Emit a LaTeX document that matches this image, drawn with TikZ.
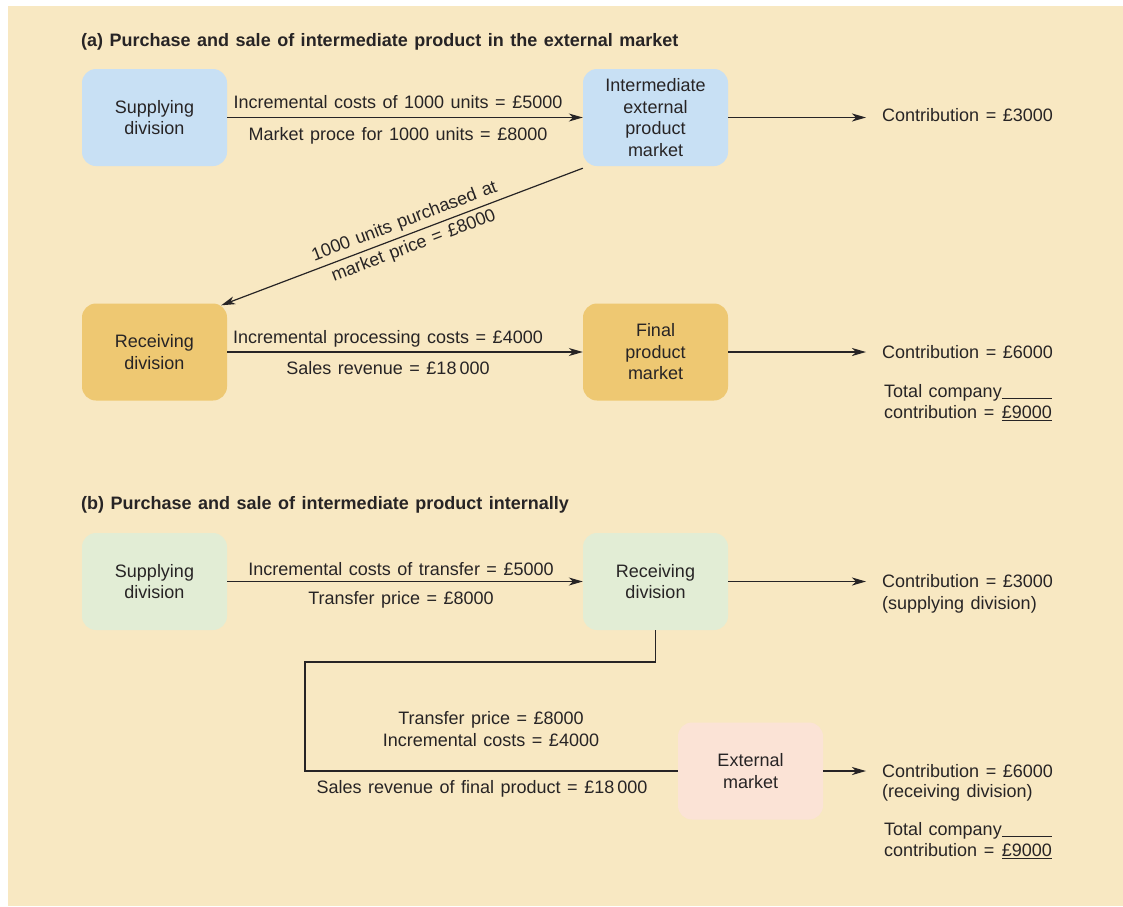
\documentclass[tikz,border=0pt]{standalone}
\usepackage{fontspec}
\setmainfont[WordSpace=1.3]{Liberation Sans}
\usetikzlibrary{arrows.meta}
\definecolor{bg}{HTML}{F8E8C2}
\definecolor{bluebox}{HTML}{C8E0F4}
\definecolor{goldbox}{HTML}{EEC872}
\definecolor{greenbox}{HTML}{E2EDD5}
\definecolor{pinkbox}{HTML}{FBE3D6}
\definecolor{ink}{HTML}{272425}
\newcommand{\myfs}{\fontsize{18}{21.5}\selectfont}
\newcommand{\mytitlefs}{\fontsize{18}{22}\selectfont\bfseries}
\begin{document}
\begin{tikzpicture}[x=1pt,y=-1pt,
  box/.style={rounded corners=14pt, minimum width=145pt, minimum height=97pt,
    align=center, text=ink, inner sep=0pt, font=\myfs},
  txt/.style={text=ink, inner sep=0pt, font=\myfs},
  ttl/.style={text=ink, inner sep=0pt, font=\mytitlefs, anchor=base west},
  conn/.style={draw=ink, line width=1.2pt},
  arr/.style={conn, -{Stealth[length=14pt,width=8pt,inset=4pt]}}]
\useasboundingbox (0,0) rectangle (1123,906);
\fill[bg] (8,6) rectangle (1123,906);

% titles
\node[ttl] (ta) at (81,46) {(a) Purchase and sale of intermediate product in the external market};
\node[ttl] (tb) at (81,509) {(b) Purchase and sale of intermediate product internally};

% ---------- part (a)
\node[box, fill=bluebox] (sa) at (154.5,117.5) {Supplying\\division};
\node[box, fill=bluebox] (ia) at (655.5,117.5) {Intermediate\\external\\product\\market};
\node[box, fill=goldbox] (ra) at (154.5,352) {Receiving\\division};
\node[box, fill=goldbox] (fa) at (655.5,352) {Final\\product\\market};

\draw[arr] (sa.east) -- (ia.west);
\node[txt, anchor=base] (la1) at (398,108) {Incremental costs of 1000 units = £5000};
\node[txt, anchor=base] (la2) at (398,140) {Market proce for 1000 units = £8000};

\node[txt, anchor=west] (ca1) at (882,115) {Contribution = £3000};
\draw[arr] (ia.east) -- (ca1.west |- ia.east) [shorten >=16pt];

\coordinate (dstart) at ([yshift=-2pt]ia.south west);
\coordinate (dend) at ([xshift=-6pt,yshift=-2pt]ra.north east);
\draw[arr] (dstart) -- (dend)
  node[pos=0.48, sloped, above=4pt, txt] (ld1) {1000 units purchased at}
  node[pos=0.48, sloped, below=4pt, txt] (ld2) {market price = £8000};

\draw[arr] (ra.east) -- (fa.west);
\node[txt, anchor=base] (lb1) at (388,343) {Incremental processing costs = £4000};
\node[txt, anchor=base] (lb2) at (388,374) {Sales revenue = £18\,000};

\node[txt, anchor=west] (ca2) at (882,352) {Contribution = £6000};
\draw[arr] (fa.east) -- (ca2.west) [shorten >=16pt];

\node[txt, anchor=base west] (tota) at (884,397)
  {\begin{tabular}[t]{@{}l@{}l@{}}Total company&\underline{\phantom{£9000}}\\contribution =\ &\underline{£9000}\end{tabular}};

% ---------- part (b)
\node[box, fill=greenbox] (sb) at (154.5,581.5) {Supplying\\division};
\node[box, fill=greenbox] (rb) at (655.5,581.5) {Receiving\\division};
\node[box, fill=pinkbox] (em) at (750.5,771) {External\\market};

\draw[arr] (sb.east) -- (rb.west);
\node[txt, anchor=base] (lc1) at (401,575) {Incremental costs of transfer = £5000};
\node[txt, anchor=base] (lc2) at (401,604) {Transfer price = £8000};

\node[txt, anchor=west] (cb1) at (882,581.5) {Contribution = £3000};
\node[txt, anchor=base west] (cb1n) at (882,609) {(supplying division)};
\draw[arr] (rb.east) -- (cb1.west) [shorten >=16pt];

\coordinate (k2) at (305,662);
\draw[conn] (rb.south) |- (k2) |- (em.west);

\node[txt, anchor=center, align=center, font=\fontsize{18}{22}\selectfont] (ld) at (491,729)
  {Transfer price = £8000\\Incremental costs = £4000};
\node[txt, anchor=base] (ls) at (482,793) {Sales revenue of final product = £18\,000};

\node[txt, anchor=west] (cb2) at (882,771) {Contribution = £6000};
\node[txt, anchor=base west] (cb2n) at (882,797) {(receiving division)};
\draw[arr] (em.east) -- (cb2.west) [shorten >=16pt];

\node[txt, anchor=base west] (totb) at (884,835)
  {\begin{tabular}[t]{@{}l@{}l@{}}Total company&\underline{\phantom{£9000}}\\contribution =\ &\underline{£9000}\end{tabular}};
\end{tikzpicture}
\end{document}
